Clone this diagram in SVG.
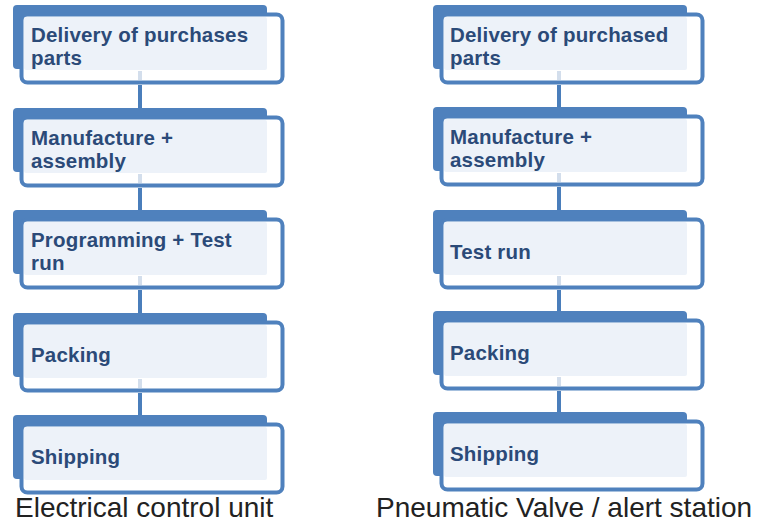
<svg xmlns="http://www.w3.org/2000/svg" width="760" height="522" viewBox="0 0 760 522">
<defs>
<style>
.back{fill:#4F81BD;}
.frame{fill:#FFFFFF;stroke:#4F81BD;stroke-width:4;}
.inner{fill:#EDF2F9;}
.lbl{font-family:"Liberation Sans",Arial,sans-serif;font-weight:bold;font-size:20.5px;letter-spacing:0.2px;fill:#2B4A78;}
.cap{font-family:"Liberation Sans",Arial,sans-serif;font-size:28px;fill:#222222;}
.conn{stroke:#4A7EBB;stroke-width:4;fill:none;}
.faint{stroke:#D3DEEC;stroke-width:4;fill:none;}
</style>
<g id="box">
<rect class="back" x="13" y="0" width="254" height="64" rx="4"/>
<rect class="frame" x="21.5" y="9.5" width="261" height="68" rx="6"/>
<rect class="inner" x="24" y="12" width="243" height="53" rx="2"/>
</g>
</defs>
<g id="l1" transform="translate(0,5)"><use href="#box"/><text class="lbl" x="31" y="37">Delivery of purchases</text><text class="lbl" x="31" y="60">parts</text></g>
<g id="l2" transform="translate(0,108)"><use href="#box"/><text class="lbl" x="31" y="37">Manufacture +</text><text class="lbl" x="31" y="60">assembly</text></g>
<g id="l3" transform="translate(0,210)"><use href="#box"/><text class="lbl" x="31" y="37">Programming + Test</text><text class="lbl" x="31" y="60">run</text></g>
<g id="l4" transform="translate(0,313)"><use href="#box"/><text class="lbl" x="31" y="49">Packing</text></g>
<g id="l5" transform="translate(0,415)"><use href="#box"/><text class="lbl" x="31" y="49">Shipping</text></g>
<g id="r1" transform="translate(420,5)"><use href="#box"/><text class="lbl" x="30" y="37">Delivery of purchased</text><text class="lbl" x="30" y="60">parts</text></g>
<g id="r2" transform="translate(420,107)"><use href="#box"/><text class="lbl" x="30" y="37">Manufacture +</text><text class="lbl" x="30" y="60">assembly</text></g>
<g id="r3" transform="translate(420,210)"><use href="#box"/><text class="lbl" x="30" y="49">Test run</text></g>
<g id="r4" transform="translate(420,311)"><use href="#box"/><text class="lbl" x="30" y="49">Packing</text></g>
<g id="r5" transform="translate(420,412)"><use href="#box"/><text class="lbl" x="30" y="49">Shipping</text></g>
<g id="connectors">
<line class="faint" x1="140" y1="71" x2="140" y2="80"/>
<line class="faint" x1="140" y1="174" x2="140" y2="183"/>
<line class="faint" x1="140" y1="276" x2="140" y2="285"/>
<line class="faint" x1="140" y1="379" x2="140" y2="388"/>
<line class="faint" x1="559" y1="71" x2="559" y2="80"/>
<line class="faint" x1="559" y1="173" x2="559" y2="182"/>
<line class="faint" x1="559" y1="276" x2="559" y2="285"/>
<line class="faint" x1="559" y1="377" x2="559" y2="386"/>
<line class="conn" x1="140" y1="85" x2="140" y2="108"/>
<line class="conn" x1="140" y1="188" x2="140" y2="210"/>
<line class="conn" x1="140" y1="290" x2="140" y2="313"/>
<line class="conn" x1="140" y1="393" x2="140" y2="415"/>
<line class="conn" x1="559" y1="85" x2="559" y2="107"/>
<line class="conn" x1="559" y1="187" x2="559" y2="210"/>
<line class="conn" x1="559" y1="290" x2="559" y2="311"/>
<line class="conn" x1="559" y1="391" x2="559" y2="412"/>
</g>
<text class="cap" x="15" y="517">Electrical control unit</text>
<text class="cap" x="376" y="517">Pneumatic Valve / alert station</text>
</svg>
